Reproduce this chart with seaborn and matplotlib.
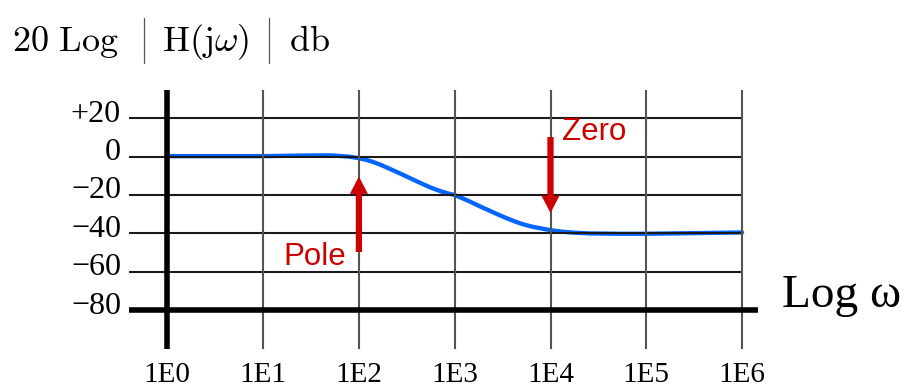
import numpy as np
import pandas as pd
import matplotlib
matplotlib.use("Agg")
import matplotlib.pyplot as plt
from matplotlib.lines import Line2D
import seaborn as sns

# Magnitude response: log10 of frequency vs gain in dB
log_omega = [0.0, 0.5, 1.0, 1.4, 1.7, 1.8, 1.9, 2.0, 2.08, 2.157, 2.24, 2.325,
             2.41, 2.5, 2.585, 2.672, 2.76, 2.846, 2.92, 3.0, 3.1, 3.197, 3.28,
             3.37, 3.455, 3.543, 3.63, 3.717, 3.8, 3.89, 4.0, 4.12, 4.24, 4.4,
             4.7, 5.0, 5.3, 5.6, 6.0]
gain_db = [0.3, 0.3, 0.3, 0.6, 0.7, 0.4, 0.0, -0.8, -1.7, -2.9, -4.5, -6.4,
           -8.3, -10.4, -12.4, -14.4, -16.3, -17.9, -19.0, -20.0, -22.1, -24.3,
           -26.3, -28.3, -30.2, -32.1, -33.8, -35.3, -36.4, -37.3, -38.3, -39.1,
           -39.6, -40.0, -40.2, -40.2, -40.0, -39.8, -39.5]

y_ticks = [20, 0, -20, -40, -60, -80]
y_tick_labels = ["+20", "0", "\u221220", "\u221240", "\u221260", "\u221280"]
x_ticks = [1e0, 1e1, 1e2, 1e3, 1e4, 1e5, 1e6]
x_tick_labels = ["1E0", "1E1", "1E2", "1E3", "1E4", "1E5", "1E6"]

pole_freq = 1e2
zero_freq = 1e4

df = pd.DataFrame({"omega": np.power(10.0, log_omega), "gain": gain_db})

sns.set_theme(style="white")
plt.rcParams["font.family"] = ["Liberation Serif", "DejaVu Serif"]
plt.rcParams["mathtext.fontset"] = "cm"

W, H = 909, 392
fig = plt.figure(figsize=(W / 100, H / 100), dpi=100)
ax = fig.add_axes([129 / W, 1 - 349 / H, (758 - 129) / W, (349 - 90) / H])
ax.set_xscale("log")
x_left = 10 ** (-38.3 / 95.8)
x_right = 10 ** (590.7 / 95.8)
px_per_db = 38.35 / 20
y_top = (156.7 - 90) / px_per_db
y_bot = (156.7 - 349) / px_per_db
ax.set_xlim(x_left, x_right)
ax.set_ylim(y_bot, y_top)
for s in ax.spines.values():
    s.set_visible(False)
ax.set_xticks([])
ax.set_yticks([])
ax.patch.set_alpha(0)

sns.lineplot(data=df, x="omega", y="gain", ax=ax, color="#0066FF",
             linewidth=3.1, zorder=2)
ax.set_xlabel("")
ax.set_ylabel("")

# grid
for v in y_ticks[:-1]:
    ax.hlines(v, x_left, x_ticks[-1], color="#1a1a1a", lw=1.5, zorder=3)
for xt in x_ticks[1:]:
    ax.axvline(xt, color="#555555", lw=1.5, zorder=3)
ax.hlines(y_ticks[-1], x_left, x_right, color="black", lw=4, zorder=4)
ax.axvline(x_ticks[0], color="black", lw=4, zorder=4)

# tick labels
y_label_x = 10 ** ((121 - 167.3) / 95.8)
for v, lab in zip(y_ticks, y_tick_labels):
    ax.text(y_label_x, v - 3.4 / px_per_db, lab, ha="right", va="baseline",
            fontsize=23, color="black")
x_label_y = (156.7 - 382) / px_per_db
for xt, lab in zip(x_ticks, x_tick_labels):
    ax.text(xt, x_label_y, lab, ha="center", va="baseline", fontsize=21,
            color="black")

# pole / zero markers
arrow = dict(arrowstyle="simple,head_length=1.25,head_width=1.3,tail_width=0.45",
             mutation_scale=10, color="#CC0000", shrinkA=0, shrinkB=0, lw=0)
ax.annotate("", xy=(pole_freq, (156.7 - 176.5) / px_per_db),
            xytext=(pole_freq, (156.7 - 252) / px_per_db),
            arrowprops=arrow, zorder=6, annotation_clip=False)
ax.annotate("", xy=(zero_freq, (156.7 - 213) / px_per_db),
            xytext=(zero_freq, (156.7 - 137) / px_per_db),
            arrowprops=arrow, zorder=6, annotation_clip=False)
ax.text(10 ** ((283 - 167.3) / 95.8), (156.7 - 265) / px_per_db, "Pole",
        ha="left", va="baseline", fontsize=22.5, color="#CC0000",
        family=["Liberation Sans", "DejaVu Sans"], zorder=6)
ax.text(10 ** ((562 - 167.3) / 95.8), (156.7 - 140) / px_per_db, "Zero",
        ha="left", va="baseline", fontsize=22.5, color="#CC0000",
        family=["Liberation Sans", "DejaVu Sans"], zorder=6)

# axis titles
fig.text(782 / W, 1 - 307 / H, "Log \u03c9", ha="left", va="baseline",
         fontsize=34, color="black")

title_y = 1 - 51 / H
fig.text(12 / W, title_y, r"$\mathrm{20\ Log}$", ha="left", va="baseline",
         fontsize=26, color="black")
fig.text(162 / W, title_y, r"$\mathrm{H(j}\omega\mathrm{)}$", ha="left",
         va="baseline", fontsize=26, color="black")
fig.text(289 / W, title_y, r"$\mathrm{db}$", ha="left", va="baseline",
         fontsize=26, color="black")
for bx in (144, 269):
    fig.add_artist(Line2D([bx / W, bx / W], [1 - 18 / H, 1 - 63 / H],
                          transform=fig.transFigure, color="#555555", lw=0.9))

fig.savefig("out.png", dpi=100)
